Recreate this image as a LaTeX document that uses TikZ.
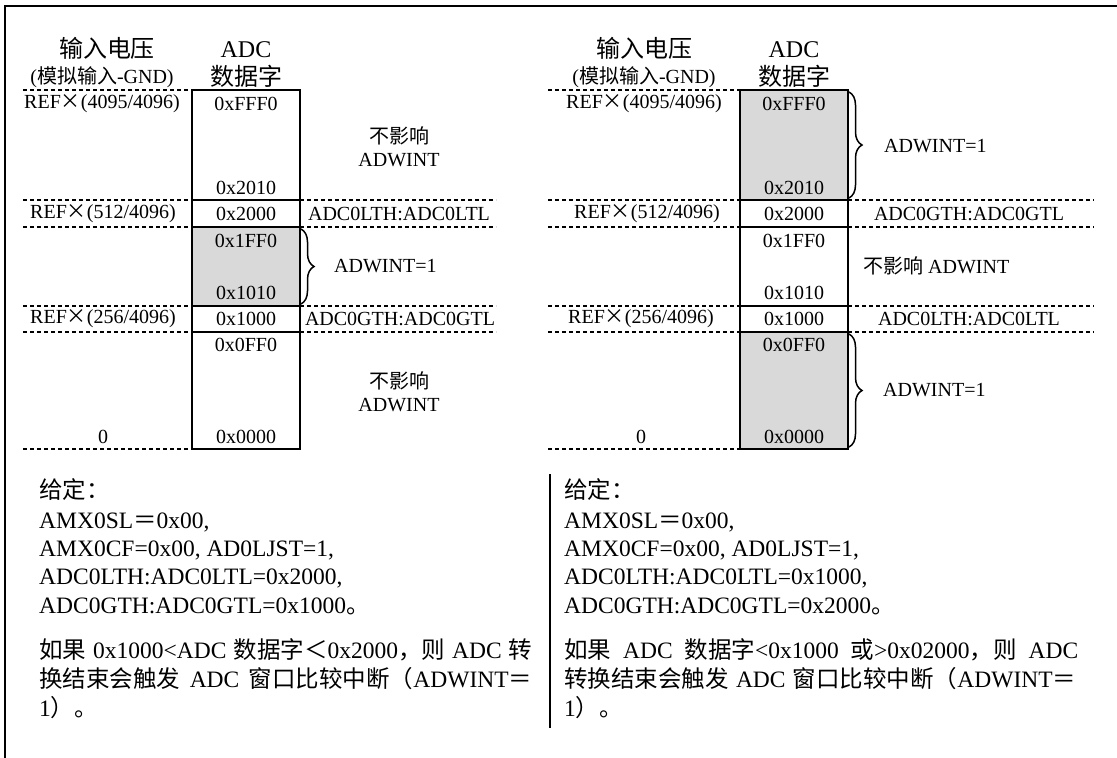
\documentclass[tikz,border=0pt]{standalone}
\usepackage{fontspec}
\setmainfont{Liberation Serif}
\newfontfamily\cjk{Noto Sans CJK SC}
\newcommand{\zh}[1]{{\cjk #1}}
\usetikzlibrary{decorations.pathreplacing}
\definecolor{cellgray}{HTML}{D9D9D9}

\begin{document}
\begin{tikzpicture}[x=1pt,y=-1pt,
  hdr/.style={font=\fontsize{24}{26}\selectfont,inner sep=0pt},
  lbl/.style={font=\fontsize{20}{22}\selectfont,inner sep=0pt},
  note/.style={font=\fontsize{20}{23}\selectfont,inner sep=0pt,align=center},
  body/.style={font=\fontsize{23.5}{26}\selectfont,inner sep=0pt,anchor=west},
  cell/.style={draw,line width=2pt},
  level/.style={dash pattern=on 4pt off 3pt,line width=1.5pt},
  bracket/.style={decorate,decoration={brace,amplitude=13pt},line width=1.5pt}]
\useasboundingbox (0,0) rectangle (1117,758);
\draw[line width=2.5pt] (5,758) -- (5,6) -- (1117,6);
% ---- left panel: window inside ----
\node[hdr] (vinL) at (107,48) {\zh{输入电压}};
\node[lbl] (gndL) at (102,77) {(\zh{模拟输入}-GND)};
\node[hdr] (adcL) at (246,50) {ADC};
\node[hdr] (wordL) at (246,76) {\zh{数据字}};
\fill[cellgray] (192,227) rectangle (300,306);
\draw[cell] (192,90) rectangle (300,449);
\foreach \y in {200,227,306,332} \draw[cell] (192,\y) -- (300,\y);
\foreach \y in {90,200,227,306,332,449} \draw[level] (23,\y) -- (192,\y);
\foreach \y in {200,227,306,332} \draw[level] (300,\y) -- (496,\y);
\foreach \v/\y in {FFF0/104,2010/188,2000/214,1FF0/241,1010/293,1000/319,0FF0/345,0000/437}
  \node[lbl] (cL\v) at (246,\y) {0x\v};
\node[lbl] (r4095L) at (102,104) {REF\zh{×}(4095/4096)};
\node[lbl] (r512L) at (103,214) {REF\zh{×}(512/4096)};
\node[lbl] (r256L) at (103,319) {REF\zh{×}(256/4096)};
\node[lbl] (zeroL) at (103,437) {0};
\node[note] (keepTopL) at (399,147) {\zh{不影响}\\ADWINT};
\node[lbl] (ltL) at (399,214) {ADC0LTH:ADC0LTL};
\coordinate (winTopL) at (301,229);
\coordinate (winBotL) at (301,304);
\draw[bracket] (winTopL) -- (winBotL);
\node[lbl,anchor=west] (intL) at (334,266) {ADWINT=1};
\node[lbl] (gtL) at (400,319) {ADC0GTH:ADC0GTL};
\node[note] (keepBotL) at (399,392) {\zh{不影响}\\ADWINT};
% ---- right panel: window outside ----
\node[hdr] (vinR) at (644,48) {\zh{输入电压}};
\node[lbl] (gndR) at (644,77) {(\zh{模拟输入}-GND)};
\node[hdr] (adcR) at (794,50) {ADC};
\node[hdr] (wordR) at (794,76) {\zh{数据字}};
\fill[cellgray] (740,90) rectangle (848,200);
\fill[cellgray] (740,332) rectangle (848,449);
\draw[cell] (740,90) rectangle (848,449);
\foreach \y in {200,227,306,332} \draw[cell] (740,\y) -- (848,\y);
\foreach \y in {90,200,227,306,332,449} \draw[level] (548,\y) -- (740,\y);
\foreach \y in {200,227,306,332} \draw[level] (848,\y) -- (1094,\y);
\foreach \v/\y in {FFF0/104,2010/188,2000/214,1FF0/241,1010/293,1000/319,0FF0/345,0000/437}
  \node[lbl] (cR\v) at (794,\y) {0x\v};
\node[lbl] (r4095R) at (644,104) {REF\zh{×}(4095/4096)};
\node[lbl] (r512R) at (647,214) {REF\zh{×}(512/4096)};
\node[lbl] (r256R) at (641,319) {REF\zh{×}(256/4096)};
\node[lbl] (zeroR) at (641,437) {0};
\coordinate (hiTopR) at (849,92);
\coordinate (hiBotR) at (849,198);
\draw[bracket] (hiTopR) -- (hiBotR);
\node[lbl,anchor=west] (intHiR) at (884,146) {ADWINT=1};
\node[lbl] (gtR) at (969,214) {ADC0GTH:ADC0GTL};
\node[lbl,anchor=west] (keepR) at (863,266) {\zh{不影响} ADWINT};
\node[lbl] (ltR) at (969,319) {ADC0LTH:ADC0LTL};
\coordinate (loTopR) at (849,334);
\coordinate (loBotR) at (849,447);
\draw[bracket] (loTopR) -- (loBotR);
\node[lbl,anchor=west] (intLoR) at (883,390) {ADWINT=1};
% ---- settings text ----
\draw[line width=1.5pt] (550,474) -- (550,728);
\node[body] (givenL) at (39,490) {\zh{给定：}};
\node[body] (selL) at (39,522) {AMX0SL\zh{＝}0x00,};
\node[body] (cfL) at (39,550) {AMX0CF=0x00, AD0LJST=1,};
\node[body] (lthL) at (39,578) {ADC0LTH:ADC0LTL=0x2000,};
\node[body] (gthL) at (39,606) {ADC0GTH:ADC0GTL=0x1000\zh{。}};
\node[body] (ifL) at (39,650) {\makebox[493pt][s]{\zh{如果} 0x1000<ADC \zh{数据字＜}0x2000\zh{，则} ADC \zh{转}}};
\node[body] (endL) at (39,679) {\makebox[493pt][s]{\zh{换结束会触发} ADC \zh{窗口比较中断（}ADWINT\zh{＝}}};
\node[body] (lastL) at (39,708) {1\zh{）。}};
\node[body] (givenR) at (564,490) {\zh{给定：}};
\node[body] (selR) at (564,522) {AMX0SL\zh{＝}0x00,};
\node[body] (cfR) at (564,550) {AMX0CF=0x00, AD0LJST=1,};
\node[body] (lthR) at (564,578) {ADC0LTH:ADC0LTL=0x1000,};
\node[body] (gthR) at (564,606) {ADC0GTH:ADC0GTL=0x2000\zh{。}};
\node[body] (ifR) at (564,650) {\makebox[514pt][s]{\zh{如果} ADC \zh{数据字}<0x1000 \zh{或}>0x02000\zh{，则} ADC}};
\node[body] (endR) at (564,679) {\makebox[512pt][s]{\zh{转换结束会触发} ADC \zh{窗口比较中断（}ADWINT\zh{＝}}};
\node[body] (lastR) at (564,708) {1\zh{）。}};
\end{tikzpicture}
\end{document}
